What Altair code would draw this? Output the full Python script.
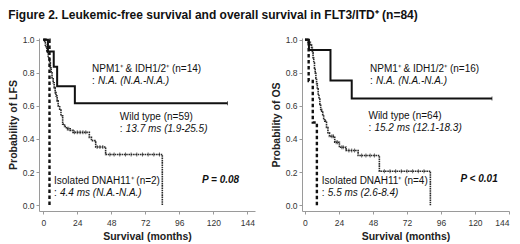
import altair as alt
import pandas as pd

TITLE = "Figure 2. Leukemic-free survival and overall survival in FLT3/ITD\u207a (n=84)"
X_TICKS = [0, 24, 48, 72, 96, 120, 144]
Y_TICKS = [0.0, 0.2, 0.4, 0.6, 0.8, 1.0]

# ---------------- LFS (left panel) ----------------
lfs_npm_t = [0, 3.3, 7.4, 9.8, 22.3, 130]
lfs_npm_s = [1.0, 0.929, 0.836, 0.718, 0.616, 0.616]
lfs_wt_t = [0, 1, 1.5, 2, 2.5, 3, 3.5, 4, 4.5, 5, 5.6, 6.2, 7, 7.7, 8.4, 9, 9.8,
            10.5, 11.6, 12.5, 13.7, 15, 16.3, 19, 21, 32.5, 34, 37, 44, 84]
lfs_wt_s = [1.0, 0.983, 0.966, 0.949, 0.932, 0.915, 0.898, 0.88, 0.86, 0.83, 0.80,
            0.77, 0.74, 0.71, 0.68, 0.66, 0.63, 0.60, 0.575, 0.54, 0.49, 0.475,
            0.462, 0.452, 0.44, 0.41, 0.39, 0.352, 0.306, 0.0]
lfs_dn_t = [0, 4.4]
lfs_dn_s = [1.0, 0.0]
lfs_wt_cens = [17, 18, 22, 24, 26, 28, 30, 38, 40, 42, 47, 50, 54, 58, 62, 66, 70, 74, 78, 82]
lfs_npm_cens = [130]
lfs_labels = ["NPM1\u207a  & IDH1/2\u207a (n=14)", "Wild type (n=59)", "Isolated DNAH11\u207a (n=2)"]
lfs_stats = ["N.A. (N.A.-N.A.)", "13.7 ms (1.9-25.5)", "4.4 ms (N.A.-N.A.)"]
lfs_lab_x = [34.4, 54.0, 7.6]
lfs_lab_y = [0.82, 0.53, 0.144]
lfs_p = "P = 0.08"
lfs_p_x, lfs_p_y = 112, 0.155

# ---------------- OS (right panel) ----------------
os_npm_t = [0, 2.8, 18, 33, 132]
os_npm_s = [1.0, 0.9375, 0.753, 0.645, 0.645]
os_wt_t = [0, 2.3, 3.8, 4.6, 5.2, 5.7, 6.2, 6.7, 7.2, 7.7, 8.2, 8.7, 9.3, 9.9, 10.5,
           11.1, 11.8, 12.5, 13.2, 14.0, 15.2, 16.2, 17.3, 21, 24.3, 29, 37.5, 52.5, 88.5]
os_wt_s = [1.0, 0.984, 0.969, 0.953, 0.922, 0.891, 0.859, 0.828, 0.797, 0.766, 0.734,
           0.703, 0.672, 0.641, 0.609, 0.578, 0.562, 0.547, 0.516, 0.508, 0.469, 0.438,
           0.416, 0.38, 0.35, 0.33, 0.30, 0.205, 0.0]
os_dn_t = [0, 2.6, 5.5, 8.4]
os_dn_s = [1.0, 0.75, 0.5, 0.0]
os_wt_cens = [19, 20, 22, 23, 26, 27, 31, 33, 35, 40, 43, 46, 49, 56, 60, 64, 68, 72, 76, 80, 84]
os_npm_cens = [132]
os_labels = ["NPM1\u207a  & IDH1/2\u207a (n=16)", "Wild type (n=64)", "Isolated DNAH11\u207a (n=4)"]
os_stats = ["N.A. (N.A.-N.A.)", "15.2 ms (12.1-18.3)", "5.5 ms (2.6-8.4)"]
os_lab_x = [45.9, 44.8, 11.9]
os_lab_y = [0.82, 0.537, 0.149]
os_p = "P < 0.01"
os_p_x, os_p_y = 109.8, 0.16

FONT = "Liberation Sans"


def step_value(ts, ss, t):
    v = ss[0]
    for ti, si in zip(ts, ss):
        if ti <= t:
            v = si
    return v


def panel(npm, wt, dn, wt_cens, npm_cens, labels, stats, lx, ly, ptxt, px, py,
          ytitle, width, xdom, flush):
    xs = alt.X("t:Q", scale=alt.Scale(domain=xdom, nice=False, zero=False),
               axis=alt.Axis(values=X_TICKS, title="Survival (months)",
                             labelPadding=4, titlePadding=5, labelFlush=flush))
    ys = alt.Y("s:Q", scale=alt.Scale(domain=[-0.035, 1.01], nice=False, zero=False),
               axis=alt.Axis(values=Y_TICKS, format=".1f", title=ytitle,
                             labelPadding=2, titlePadding=4))

    def line(ts, ss):
        return pd.DataFrame({"t": ts, "s": ss})

    wt_line = alt.Chart(line(*wt)).mark_line(
        interpolate="step-after", color="#2a2a2a", strokeWidth=1.6,
        strokeDash=[1.6, 0.7]).encode(x=xs, y=ys)
    npm_line = alt.Chart(line(*npm)).mark_line(
        interpolate="step-after", color="#111111", strokeWidth=2).encode(x=xs, y=ys)
    dn_line = alt.Chart(line(*dn)).mark_line(
        interpolate="step-after", color="#111111", strokeWidth=2.4,
        strokeDash=[3.5, 2.5]).encode(x=xs, y=ys)

    cens = pd.DataFrame({
        "t": list(wt_cens) + list(npm_cens),
        "s": [step_value(wt[0], wt[1], c) for c in wt_cens]
             + [step_value(npm[0], npm[1], c) for c in npm_cens],
    })
    ticks = alt.Chart(cens).mark_tick(orient="vertical", size=4, thickness=1,
                                      color="#222222").encode(x=xs, y=ys)

    lab = pd.DataFrame({"t": lx, "s": ly, "text": labels, "stat": stats})
    t1 = alt.Chart(lab).mark_text(align="left", baseline="middle", font=FONT,
                                  fontSize=10, color="#111111").encode(
        x=xs, y=ys, text="text:N")
    colon = alt.Chart(lab).mark_text(align="left", baseline="middle", font=FONT,
                                     fontSize=10, color="#111111", dy=12).encode(
        x=xs, y=ys, text=alt.value(":"))
    t2 = alt.Chart(lab).mark_text(align="left", baseline="middle", font=FONT,
                                  fontSize=10, fontStyle="italic", color="#111111",
                                  dy=12, dx=6).encode(x=xs, y=ys, text="stat:N")
    pdf = pd.DataFrame({"t": [px], "s": [py], "text": [ptxt]})
    pt = alt.Chart(pdf).mark_text(align="left", baseline="middle", font=FONT,
                                  fontSize=10, fontStyle="italic", fontWeight="bold",
                                  color="#111111").encode(x=xs, y=ys, text="text:N")

    return alt.layer(wt_line, ticks, npm_line, dn_line, t1, colon, t2, pt).properties(
        width=width, height=173)


left = panel((lfs_npm_t, lfs_npm_s), (lfs_wt_t, lfs_wt_s), (lfs_dn_t, lfs_dn_s),
             lfs_wt_cens, lfs_npm_cens, lfs_labels, lfs_stats, lfs_lab_x, lfs_lab_y,
             lfs_p, lfs_p_x, lfs_p_y, "Probability of LFS", 216, [-3, 149.4], False)
right = panel((os_npm_t, os_npm_s), (os_wt_t, os_wt_s), (os_dn_t, os_dn_s),
              os_wt_cens, os_npm_cens, os_labels, os_stats, os_lab_x, os_lab_y,
              os_p, os_p_x, os_p_y, "Probability of OS", 207, [-2.1, 144], True)

chart = alt.hconcat(left, right, spacing=16).properties(
    title=alt.TitleParams(TITLE, anchor="start", font=FONT, fontSize=12,
                          fontWeight="bold", color="#111111", offset=13.3)
).configure(padding={"left": 0, "top": 0, "right": 0, "bottom": 0}
).configure_view(stroke=None
).configure_axis(grid=False, domainColor="#9a9a9a", tickColor="#9a9a9a", tickSize=3,
                 labelFont=FONT, labelFontSize=8.5, labelColor="#333333",
                 titleFont=FONT, titleFontSize=10.5, titleFontWeight="bold",
                 titleColor="#222222")

chart.save("out.html", embed_options={"renderer": "svg", "actions": False})
